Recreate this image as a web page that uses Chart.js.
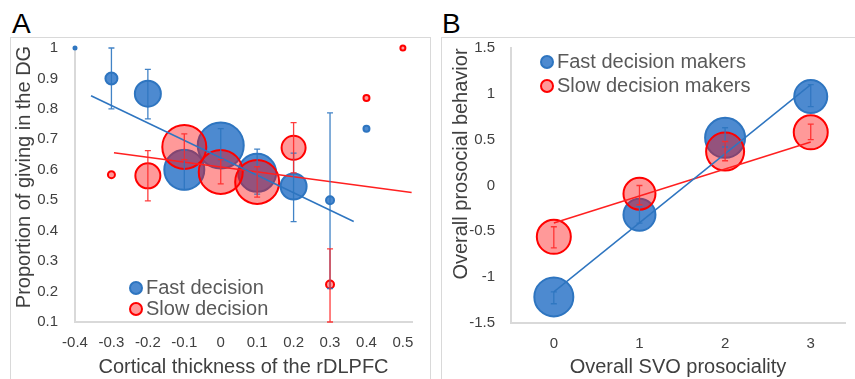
<!DOCTYPE html>
<html>
<head>
<meta charset="utf-8">
<script src="https://cdn.jsdelivr.net/npm/chart.js@4.4.0/dist/chart.umd.min.js"></script>
<style>
  body { margin: 0; background: #fff; font-family: "Liberation Sans", Arial, sans-serif; }
  #wrap { position: relative; width: 855px; height: 379px; overflow: hidden; }
  .panel { position: absolute; top: 37px; height: 360px; border: 1px solid #d9d9d9; }
  .box { position: absolute; top: 37px; height: 342px; }
  .letter { position: absolute; top: 8px; font-size: 28px; color: #000; }
  .leg { position: absolute; font-size: 20px; color: #595959; line-height: 22px; white-space: nowrap; }
  .leg span { display: inline-block; width: 10px; height: 10px; border-radius: 50%; border: 2px solid; vertical-align: -1px; margin-right: 3px; }
  .ytitle { position: absolute; width: 300px; height: 24px; line-height: 24px; margin: -12px 0 0 -150px;
            text-align: center; font-size: 20px; color: #404040; transform: rotate(-90deg); white-space: nowrap; }
</style>
</head>
<body>
<div id="wrap">
  <div class="panel" style="left:10px; width:419px;"></div>
  <div class="panel" style="left:441px; width:420px;"></div>
  <div class="letter" style="left:12px;">A</div>
  <div class="letter" style="left:442px;">B</div>
  <div class="box" style="left:10px; width:420px;"><canvas id="chartA"></canvas></div>
  <div class="box" style="left:441px; width:414px;"><canvas id="chartB"></canvas></div>
  <div class="ytitle" style="left:23px; top:177px;">Proportion of giving in the DG</div>
  <div class="ytitle" style="left:460px; top:164px;">Overall prosocial behavior</div>
  <div class="leg" style="left:129px; top:276px;"><span style="background:#4d8ad0;border-color:#2e75c0"></span>Fast decision</div>
  <div class="leg" style="left:129px; top:297px;"><span style="background:#ff9999;border-color:#ff0000"></span>Slow decision</div>
  <div class="leg" style="left:540px; top:50px;"><span style="background:#4d8ad0;border-color:#2e75c0"></span>Fast decision makers</div>
  <div class="leg" style="left:540px; top:74px;"><span style="background:#ff9999;border-color:#ff0000"></span>Slow decision makers</div>
</div>
<script>
// Panel A: cortical thickness vs proportion of giving
const aTicks = [-0.4, -0.3, -0.2, -0.1, 0, 0.1, 0.2, 0.3, 0.4, 0.5];
const aFastX = [-0.4, -0.3, -0.2, -0.1, 0, 0.1, 0.2, 0.3, 0.4];
const aFastY = [1.0, 0.9, 0.85, 0.6, 0.68, 0.59, 0.545, 0.5, 0.735];
const aFastR = [1.5, 6, 13, 20, 23, 19, 13, 4, 3];
const aFastLo = [null, 0.8, 0.767, 0.535, 0.63, 0.52, 0.43, 0.21, null];
const aFastHi = [null, 1.0, 0.93, 0.665, 0.735, 0.668, 0.655, 0.787, null];

const aSlowX = [-0.3, -0.2, -0.1, 0, 0.1, 0.2, 0.3, 0.4, 0.5];
const aSlowY = [0.584, 0.58, 0.675, 0.593, 0.56, 0.672, 0.223, 0.836, 1.0];
const aSlowR = [3.5, 12.5, 22, 22, 22, 12, 4, 3, 2.5];
const aSlowLo = [null, 0.498, 0.633, 0.554, 0.51, 0.59, 0.1, null, null];
const aSlowHi = [null, 0.663, 0.718, 0.633, 0.61, 0.755, 0.34, null, null];

const aFastTrendX = [-0.356, 0.365];
const aFastTrendY = [0.843, 0.43];
const aSlowTrendX = [-0.293, 0.524];
const aSlowTrendY = [0.656, 0.525];

// Panel B: SVO prosociality vs prosocial behavior
const bX = [0, 1, 2, 3];
const bFastY = [-1.215, -0.32, 0.52, 0.97];
const bFastR = [19.5, 16, 20, 16.5];
const bFastLo = [-1.29, -0.41, 0.42, 0.86];
const bFastHi = [-1.16, -0.23, 0.63, 1.10];
const bSlowY = [-0.56, -0.09, 0.37, 0.58];
const bSlowR = [17, 16, 19, 17];
const bSlowLo = [-0.68, -0.21, 0.27, 0.50];
const bSlowHi = [-0.45, 0.0, 0.48, 0.67];

const bFastTrendX = [0, 3];
const bFastTrendY = [-1.16, 1.10];
const bSlowTrendX = [0, 3];
const bSlowTrendY = [-0.41, 0.475];

const BLUE = '#2e75c0', BLUE_FILL = 'rgba(46,117,200,0.85)';
const RED = '#ff0000', RED_FILL = 'rgba(255,0,0,0.4)';
const FONT = '"Liberation Sans", Arial, sans-serif';

function bubbles(xs, ys, rs) {
  return xs.map((x, i) => ({ x: x, y: ys[i], r: rs[i] }));
}
function points(xs, ys) {
  return xs.map((x, i) => ({ x: x, y: ys[i] }));
}

// draws vertical error bars with small caps
const errorBars = {
  id: 'errorBars',
  afterDatasetsDraw(chart, args, opts) {
    const ctx = chart.ctx;
    const xs = chart.scales.x, ys = chart.scales.y;
    ctx.save();
    ctx.lineWidth = 1.3;
    opts.sets.forEach(s => {
      ctx.strokeStyle = s.color;
      s.x.forEach((x, i) => {
        if (s.lo[i] == null) return;
        const px = xs.getPixelForValue(x);
        const p1 = ys.getPixelForValue(s.lo[i]);
        const p2 = ys.getPixelForValue(s.hi[i]);
        ctx.beginPath();
        ctx.moveTo(px, p1); ctx.lineTo(px, p2);
        ctx.moveTo(px - 3, p1); ctx.lineTo(px + 3, p1);
        ctx.moveTo(px - 3, p2); ctx.lineTo(px + 3, p2);
        ctx.stroke();
      });
    });
    ctx.restore();
  }
};

function trend(data, color) {
  return {
    type: 'line', data: data, borderColor: color, borderWidth: 1.5,
    pointRadius: 0, fill: false, tension: 0, order: 0
  };
}

function makeChart(id, cfg) {
  return new Chart(document.getElementById(id), {
    type: 'bubble',
    data: {
      datasets: [
        trend(cfg.fastTrend, BLUE),
        trend(cfg.slowTrend, '#ff2020'),
        { data: cfg.slow, backgroundColor: RED_FILL, borderColor: RED, borderWidth: 2, order: 1 },
        { data: cfg.fast, backgroundColor: BLUE_FILL, borderColor: BLUE, borderWidth: 2, order: 2 }
      ]
    },
    options: {
      responsive: true,
      maintainAspectRatio: false,
      animation: false,
      events: [],
      clip: false,
      layout: { autoPadding: false, padding: { top: 0, right: cfg.padRight, left: 0, bottom: 0 } },
      plugins: {
        legend: { display: false },
        tooltip: { enabled: false },
        errorBars: { sets: cfg.errors }
      },
      scales: {
        x: {
          type: 'linear',
          min: cfg.xMin, max: cfg.xMax,
          afterFit: s => { s.height = cfg.xHeight; },
          afterBuildTicks: s => { s.ticks = cfg.xTicks.map(v => ({ value: v })); },
          grid: { display: false, drawTicks: false },
          border: { display: true, color: '#d9d9d9', width: 2 },
          ticks: {
            padding: 12, color: '#404040', maxRotation: 0,
            autoSkip: false,
            font: { size: 15, family: FONT },
            callback: v => String(Math.round(v * 10) / 10)
          },
          title: {
            display: true, text: cfg.xTitle, color: '#404040',
            font: { size: 20, family: FONT }, padding: { top: 0, bottom: 0 }
          }
        },
        y: {
          min: cfg.yMin, max: cfg.yMax,
          // fixed width and top gap so the plot area lines up with the picture
          afterFit: s => { s.width = cfg.yWidth; s.paddingTop = 11; s.paddingBottom = 11; },
          grid: { display: false, drawTicks: false },
          border: { display: true, color: '#d9d9d9', width: 2 },
          ticks: {
            stepSize: cfg.yStep, padding: cfg.yPad, color: '#404040',
            font: { size: 15, family: FONT },
            callback: v => String(Math.round(v * 10) / 10)
          },
          title: { display: false }
        }
      }
    },
    plugins: [errorBars]
  });
}

makeChart('chartA', {
  fast: bubbles(aFastX, aFastY, aFastR),
  slow: bubbles(aSlowX, aSlowY, aSlowR),
  fastTrend: points(aFastTrendX, aFastTrendY),
  slowTrend: points(aSlowTrendX, aSlowTrendY),
  errors: [
    { x: aFastX, lo: aFastLo, hi: aFastHi, color: 'rgba(46,117,192,0.9)' },
    { x: aSlowX, lo: aSlowLo, hi: aSlowHi, color: 'rgba(255,40,40,0.9)' }
  ],
  xMin: -0.4, xMax: 0.525, xTicks: aTicks,
  yMin: 0.1, yMax: 1, yStep: 0.1,
  xHeight: 57, yWidth: 65, padRight: 18, yPad: 17,
  xTitle: 'Cortical thickness of the rDLPFC'
});

makeChart('chartB', {
  fast: bubbles(bX, bFastY, bFastR),
  slow: bubbles(bX, bSlowY, bSlowR),
  fastTrend: points(bFastTrendX, bFastTrendY),
  slowTrend: points(bSlowTrendX, bSlowTrendY),
  errors: [
    { x: bX, lo: bFastLo, hi: bFastHi, color: 'rgba(46,117,192,0.9)' },
    { x: bX, lo: bSlowLo, hi: bSlowHi, color: 'rgba(255,40,40,0.9)' }
  ],
  xMin: -0.5, xMax: 3.4, xTicks: bX,
  yMin: -1.5, yMax: 1.5, yStep: 0.5,
  xHeight: 56, yWidth: 70, padRight: 10, yPad: 16,
  xTitle: 'Overall SVO prosociality'
});
</script>
</body>
</html>
